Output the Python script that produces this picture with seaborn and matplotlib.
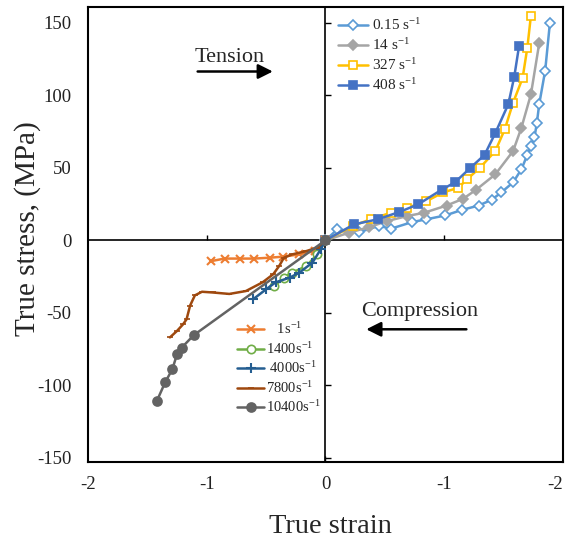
import numpy as np
import pandas as pd
import matplotlib
matplotlib.use('Agg')
import matplotlib.pyplot as plt
import seaborn as sns

# tension side (right half), strain plotted positive
t015_x = [0, 0.10, 0.28, 0.45, 0.55, 0.73, 0.85, 1.01, 1.15, 1.29, 1.40, 1.48, 1.58, 1.65, 1.70, 1.73, 1.76, 1.78, 1.80, 1.85, 1.89]
t015_y = [0, 7.6, 5.5, 10, 8, 12.6, 14.5, 17.2, 21, 24, 28, 33, 40, 49, 59, 65, 71, 81, 94, 117, 150]
t14_x = [0, 0.20, 0.37, 0.52, 0.69, 0.83, 1.02, 1.16, 1.27, 1.43, 1.58, 1.65, 1.73, 1.80]
t14_y = [0, 5.3, 9.2, 13.3, 16.8, 19, 24, 28.7, 35, 45.5, 61.6, 77.7, 100.7, 136]
t327_x = [0, 0.23, 0.38, 0.55, 0.69, 0.85, 0.99, 1.12, 1.19, 1.30, 1.43, 1.51, 1.58, 1.66, 1.70, 1.73]
t327_y = [0, 9.9, 14.5, 19, 22.5, 27, 33, 36.3, 42, 50, 61.6, 76.6, 95, 112, 133, 155]
t408_x = [0, 0.24, 0.44, 0.62, 0.78, 0.98, 1.09, 1.22, 1.34, 1.43, 1.54, 1.59, 1.63]
t408_y = [0, 11, 14.5, 19.5, 24.8, 35, 40, 50, 59, 74, 94, 113, 134]

# compression side (left half)
c1_x = [0, -0.09, -0.22, -0.36, -0.47, -0.60, -0.72, -0.85, -0.96]
c1_y = [0, -7.4, -9.7, -11.3, -12, -12.6, -12.6, -12.6, -14.3]
c1400_x = [0, -0.07, -0.16, -0.28, -0.35, -0.43]
c1400_y = [0, -9.7, -17.7, -22.3, -25.7, -31.5]
c4000_x = [0, -0.04, -0.11, -0.22, -0.30, -0.42, -0.50, -0.61]
c4000_y = [0, -6.2, -15.4, -22.3, -25.7, -29, -33.8, -40.7]
c7800_x = [0, -0.07, -0.16, -0.28, -0.35, -0.39, -0.44, -0.53, -0.67, -0.81, -0.95, -1.04, -1.10, -1.14, -1.17, -1.20, -1.25, -1.31]
c7800_y = [0, -5, -7.4, -9.7, -12, -17.7, -23.4, -29, -35, -37, -36, -35.5, -38, -45, -54.5, -58, -62.5, -67]
c10400_x = [0, -1.11, -1.21, -1.25, -1.29, -1.35, -1.42]
c10400_y = [0, -65.5, -74, -78.6, -89, -98, -110.8]

y_ticks = [-150, -100, -50, 0, 50, 100, 150]
x_ticks = [-2, -1, 0, 1, 2]
x_tick_labels = ['-2', '-1', '0', '-1', '-2']

sns.set_theme(style='white')
plt.rcParams['font.family'] = ['Liberation Serif', 'DejaVu Serif']
plt.rcParams['mathtext.fontset'] = 'custom'
plt.rcParams['mathtext.rm'] = 'Liberation Serif'
plt.rcParams['mathtext.it'] = 'Liberation Serif:italic'
plt.rcParams['axes.unicode_minus'] = False

fig = plt.figure(figsize=(5.67, 5.4), dpi=100)
ax = fig.add_axes([0.1552, 0.1444, 0.8377, 0.8426])

def draw(xs, ys, col, mk, lab, ms=6, mfc=None, mew=1.2):
    df = pd.DataFrame({'x': xs, 'y': ys})
    sns.lineplot(data=df, x='x', y='y', ax=ax, sort=False, estimator=None,
                 color=col, marker=mk, markersize=ms, lw=1.8, label=lab,
                 markerfacecolor=mfc if mfc else col, markeredgecolor=col,
                 markeredgewidth=mew)

draw(t015_x, t015_y, '#5b9bd5', 'D', '0.15 s$^{-1}$', ms=5, mfc='white')
draw(t14_x, t14_y, '#a5a5a5', 'D', '14 s$^{-1}$', ms=5)
draw(t327_x, t327_y, '#ffc000', 's', '327 s$^{-1}$', ms=6, mfc='white')
draw(t408_x, t408_y, '#4472c4', 's', '408 s$^{-1}$', ms=6)
draw(c1_x, c1_y, '#ed7d31', 'x', '   1s$^{-1}$', ms=6, mew=1.5)
draw(c1400_x, c1400_y, '#70ad47', 'o', '1400s$^{-1}$', ms=6, mfc='white')
draw(c4000_x, c4000_y, '#255e91', '+', ' 4000s$^{-1}$', ms=7, mew=1.5)
draw(c7800_x, c7800_y, '#9e480e', '_', '7800s$^{-1}$', ms=5)
draw(c10400_x, c10400_y, '#636363', 'o', '10400s$^{-1}$', ms=6.5)

handles, labels = ax.get_legend_handles_labels()
ax.get_legend().remove()
leg1 = ax.legend(handles[:4], labels[:4], loc='upper left', bbox_to_anchor=(0.5, 1.005),
                 frameon=False, fontsize=11, handlelength=2.0, handletextpad=0.25,
                 labelspacing=0.28, borderpad=0.3)
ax.add_artist(leg1)
ax.legend(handles[4:], labels[4:], loc='upper left', bbox_to_anchor=(0.29, 0.335),
          frameon=False, fontsize=10.5, handlelength=1.8, handletextpad=0.15,
          labelspacing=0.25, borderpad=0.3)

ax.set_xlim(-2, 2)
ax.set_ylim(-153, 161)
ax.set_xticks(x_ticks)
ax.set_xticklabels(x_tick_labels)
ax.set_yticks(y_ticks)
ax.tick_params(axis='both', length=0, labelsize=13.5, colors='#222222')
ax.tick_params(axis='y', pad=12)
ax.tick_params(axis='x', pad=10)
ax.get_xticklabels()[-1].set_horizontalalignment('right')

for s in ax.spines.values():
    s.set_color('black')
    s.set_linewidth(1.5)

# axes through origin with small tick marks
ax.axhline(0, color='black', lw=1.2, zorder=1)
ax.axvline(0, color='black', lw=1.2, zorder=1)
for yv in y_ticks:
    if yv != 0:
        ax.hlines(yv, 0, 0.045, color='black', lw=1.0)
for xv in [-1, 1]:
    ax.vlines(xv, 0, 3.5, color='black', lw=1.0)
ax.vlines(0, -153, -149, color='black', lw=1.0)

ax.set_xlabel('True strain', fontsize=20.5)
ax.set_ylabel('True stress, (MPa)', fontsize=21)
ax.xaxis.set_label_coords(0.51, -0.115)
ax.yaxis.set_label_coords(-0.10, 0.514)

ax.text(-1.10, 123, 'Tension', fontsize=16, ha='left', va='baseline')
ax.annotate('', xy=(-0.42, 116.5), xytext=(-1.10, 116.5),
            arrowprops=dict(arrowstyle='-|>', lw=1.8, color='black', mutation_scale=22))
ax.text(0.30, -52.4, 'Compression', fontsize=16, ha='left', va='baseline')
ax.annotate('', xy=(0.32, -61.4), xytext=(1.21, -61.4),
            arrowprops=dict(arrowstyle='-|>', lw=1.8, color='black', mutation_scale=22))

plt.savefig('out.png', dpi=100)
